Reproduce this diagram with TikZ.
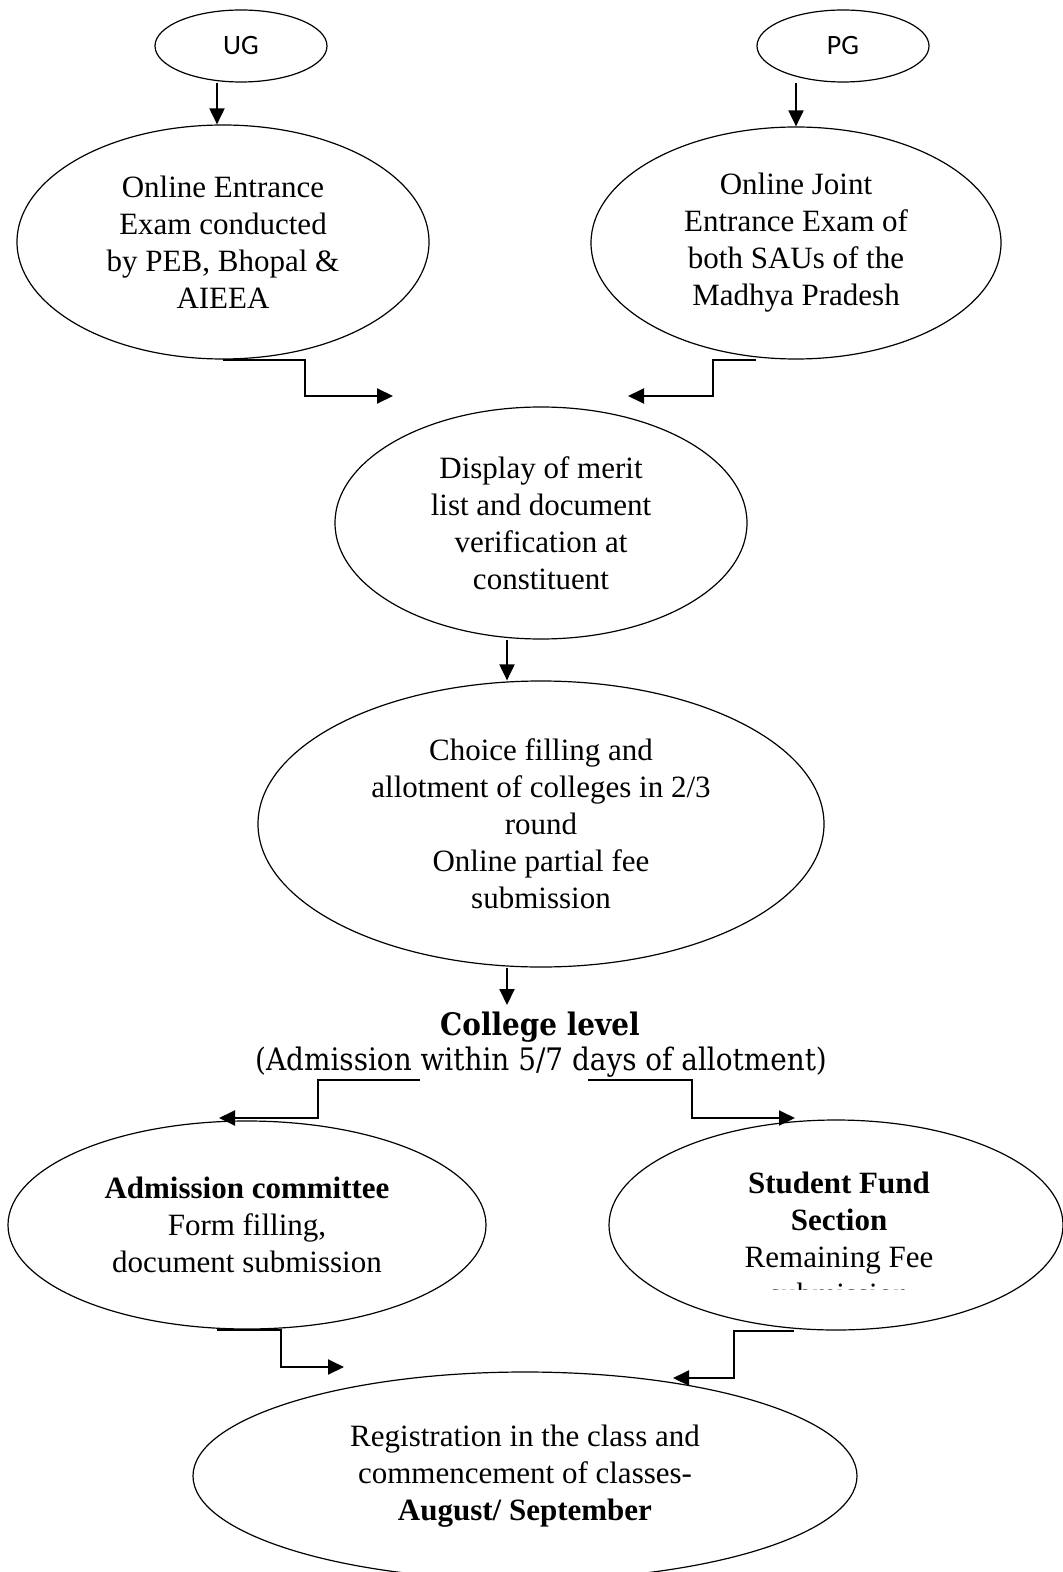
\documentclass[tikz,border=0pt]{standalone}
\usepackage{fontspec}
\newfontfamily\timesfont{Liberation Serif}
\newfontfamily\calibrifont{Carlito}
\newfontfamily\cambriafont{DejaVu Serif Condensed}
\usetikzlibrary{shapes.geometric,arrows.meta}

\begin{document}
\begin{tikzpicture}[x=0.5pt,y=-0.5pt,
	oval/.style={draw, ellipse, line width=0.6pt, inner sep=0pt, align=center,
		font=\timesfont\fontsize{15.5}{18.5}\selectfont},
	kopf/.style={draw, ellipse, line width=0.6pt, inner sep=0pt,
		font=\calibrifont\fontsize{14}{16}\selectfont},
	pfeil/.style={-{Triangle[length=8pt,width=7.5pt]}, line width=1pt}]
	
	% Seitengröße wie Vorlage
	\useasboundingbox (0,0) rectangle (1063,1572);
	
	% Einstieg: UG und PG
	\node[kopf, minimum width=86pt, minimum height=36pt] (ug) at (241,46) {UG};
	\node[kopf, minimum width=86pt, minimum height=36pt] (pg) at (843,46) {PG};
	
	% Aufnahmeprüfungen
	\node[oval, minimum width=206pt, minimum height=117pt] (entl) at (223,242)
		{Online Entrance\\Exam conducted\\by PEB, Bhopal \&\\AIEEA};
	\node[oval, minimum width=205pt, minimum height=116pt] (entr) at (796,243)
		{Online Joint\\Entrance Exam of\\both SAUs of the\\Madhya Pradesh};
	
	\draw[pfeil] ([xshift=-12pt]ug.south) -- ([xshift=-3pt]entl.north);
	\draw[pfeil] (pg.south -| entr.north) -- (entr.north);
	
	% Zusammenführung
	\coordinate (mrgl) at (393,396);
	\coordinate (mrgr) at (628,396);
	\draw[pfeil] (entl.south) -| (305,396) -- (mrgl);
	\draw[pfeil] ([xshift=-20pt]entr.south) -| (713,396) -- (mrgr);
	
	% Merit-Liste
	\node[oval, minimum width=206pt, minimum height=116pt] (anz) at (541,523)
		{Display of merit\\list and document\\verification at\\constituent};
	
	% Wahl und Zuteilung
	\node[oval, minimum width=283pt, minimum height=143pt] (wahl) at (541,824)
		{Choice filling and\\allotment of colleges in 2/3\\round\\Online partial fee\\submission};
	\draw[pfeil] ([xshift=-17pt]anz.south) -- ([xshift=-17pt]wahl.north);
	
	% Ebene College
	\node[font=\cambriafont\fontsize{15.5}{18}\selectfont\bfseries] (coll) at (540,1027) {College level};
	\node[font=\cambriafont\fontsize{15.5}{18}\selectfont] (zeit) at (541,1062)
		{(Admission within 5/7 days of allotment)};
	\coordinate (collin) at (507,1005);
	\draw[pfeil] ([xshift=-17pt]wahl.south) -- (collin);
	
	% Ausschuss und Fonds
	\node[oval, minimum width=239pt, minimum height=104pt] (adm) at (247,1225)
		{\textbf{Admission committee}\\Form filling,\\document submission};
	\node[oval, minimum width=227pt, minimum height=105pt] (sf) at (836,1225) {};
	\begin{scope}
		\clip (600,1110) rectangle (1063,1289.5);
		\node[align=center, inner sep=0pt, font=\timesfont\fontsize{15.5}{18.5}\selectfont]
			(sftext) at (839,1238)
			{\textbf{Student Fund}\\\textbf{Section}\\Remaining Fee\\submission};
	\end{scope}
	
	\coordinate (zl) at (420,1080);
	\coordinate (zr) at (588,1080);
	\coordinate (admin) at (219,1118);
	\coordinate (sfin) at (795,1118);
	\draw[pfeil] (zl) -| (318,1118) -- (admin);
	\draw[pfeil] (zr) -| (692,1118) -- (sfin);
	
	% Registrierung
	\node[oval, minimum width=332pt, minimum height=104pt] (reg) at (525,1476)
		{Registration in the class and\\commencement of classes-\\\textbf{August/ September}};
	\coordinate (regl) at (344,1367);
	\coordinate (regr) at (673,1378);
	\draw[pfeil] ([xshift=-15pt]adm.south) -| (281,1367) -- (regl);
	\draw[pfeil] ([xshift=-21pt]sf.south) -| (734,1378) -- (regr);
	
\end{tikzpicture}
\end{document}
